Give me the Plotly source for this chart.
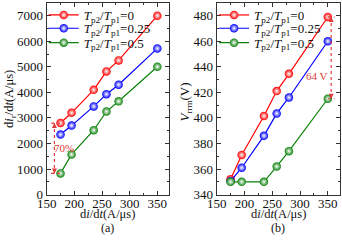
import plotly.graph_objects as go

# ---------------- data ----------------
didt = [175, 195, 235, 258, 280, 350]

# (a) dir/dt (A/us)
a_tp0 = [2800, 3200, 4100, 4820, 5250, 7000]
a_tp025 = [2350, 2700, 3450, 3930, 4300, 5720]
a_tp05 = [830, 1570, 2520, 3250, 3650, 5000]

# (b) Vrrm (V)
b_tp0 = [352, 371, 401.5, 421, 434.5, 479]
b_tp025 = [350.5, 361, 386, 403.5, 416, 460]
b_tp05 = [350, 350, 350, 362, 374, 415]

series_names = ["<i>T</i><sub>p2</sub>/<i>T</i><sub>p1</sub>=0",
                "<i>T</i><sub>p2</sub>/<i>T</i><sub>p1</sub>=0.25",
                "<i>T</i><sub>p2</sub>/<i>T</i><sub>p1</sub>=0.5"]
colors = ["#ff0000", "#0000ff", "#0b820b"]

# annotation data
a_arrow_x = 164
a_arrow_top, a_arrow_bot = 2800, 830
a_label = "70%"
b_arrow_x = 356
b_arrow_top, b_arrow_bot = 479, 415
b_label = "64 V"

FONT = "Liberation Serif"
ann_col = "#e0393b"

W, H = 342, 240
legend_rows_px = [14, 28.3, 42.7]
left_legend_x = 0.128
right_legend_x = 0.626

fig = go.Figure()
legend_defs = {}
k = 1
for panel, (xa, ya, datasets, lx) in enumerate([
        ("x", "y", [a_tp0, a_tp025, a_tp05], left_legend_x),
        ("x2", "y2", [b_tp0, b_tp025, b_tp05], right_legend_x)]):
    for i, (ys, name, c) in enumerate(zip(datasets, series_names, colors)):
        lname = "legend" if k == 1 else f"legend{k}"
        fig.add_trace(go.Scatter(
            x=didt, y=ys, mode="lines+markers", name=name,
            line=dict(color=c, width=1.2),
            marker=dict(size=8.5, color=c, symbol="circle",
                        gradient=dict(type="radial", color="white"),
                        line=dict(width=0)),
            xaxis=xa, yaxis=ya, legend=lname))
        legend_defs[lname] = dict(
            x=lx, y=1 - legend_rows_px[i] / H, xanchor="left", yanchor="middle",
            bgcolor="rgba(0,0,0,0)", font=dict(family=FONT, size=13),
            itemwidth=30, tracegroupgap=0)
        k += 1

axis_common = dict(
    showline=True, linecolor="#333", linewidth=1, mirror="allticks",
    ticks="inside", ticklen=4, tickcolor="#333", tickwidth=1,
    showgrid=False, zeroline=False,
    tickfont=dict(family=FONT, size=13, color="#111"),
    automargin=False,
)

fig.update_layout(
    width=W, height=H,
    margin=dict(l=0, r=0, t=0, b=0),
    paper_bgcolor="white", plot_bgcolor="white",
    font=dict(family=FONT, size=13, color="#111"),
    xaxis=dict(domain=[0.1365, 0.494], range=[150, 371], dtick=50, tick0=150,
               minor=dict(dtick=25, ticks="inside", ticklen=2, tickcolor="#333"),
               anchor="y", ticklabelstandoff=-3, **axis_common),
    yaxis=dict(domain=[0.19, 0.992], range=[0, 7500], dtick=1000,
               minor=dict(dtick=500, ticks="inside", ticklen=2, tickcolor="#333"),
               anchor="x", **axis_common),
    xaxis2=dict(domain=[0.6336, 0.9927], range=[150, 371], dtick=50, tick0=150,
                minor=dict(dtick=25, ticks="inside", ticklen=2, tickcolor="#333"),
                anchor="y2", ticklabelstandoff=-3, **axis_common),
    yaxis2=dict(domain=[0.19, 0.992], range=[340, 490], dtick=20,
                minor=dict(dtick=10, ticks="inside", ticklen=2, tickcolor="#333"),
                anchor="x2", **axis_common),
    showlegend=True,
    **legend_defs,
)

# axis titles and panel labels
xtitle = "d<i>i</i>/d<i>t</i>(A/μs)"
for xc, lab in [((0.1365 + 0.494) / 2, "(a)"), ((0.6336 + 0.9927) / 2, "(b)")]:
    fig.add_annotation(x=xc, y=(H - 214) / H, xref="paper", yref="paper",
                       yanchor="middle", xanchor="center",
                       text=xtitle, showarrow=False, font=dict(family=FONT, size=12.5))
    fig.add_annotation(x=xc, y=(H - 228) / H, xref="paper", yref="paper",
                       yanchor="middle", xanchor="center",
                       text=lab, showarrow=False, font=dict(family=FONT, size=12))

fig.add_annotation(x=10 / W, y=0.59, xref="paper", yref="paper",
                   xanchor="center", yanchor="middle",
                   text="d<i>i</i><sub>r</sub>/d<i>t</i>(A/μs)", textangle=-90,
                   showarrow=False, font=dict(family=FONT, size=12.5))
fig.add_annotation(x=186 / W, y=0.575, xref="paper", yref="paper",
                   xanchor="center", yanchor="middle",
                   text="<i>V</i><sub>rrm</sub>(V)", textangle=-90,
                   showarrow=False, font=dict(family=FONT, size=13))

# dashed arrows
def dashed_arrow(xref, yref, x, y0, y1, cap_x0, cap_x1):
    fig.add_shape(type="line", xref=xref, yref=yref, x0=x, x1=x, y0=y0, y1=y1,
                  line=dict(color=ann_col, width=1.2, dash="dot"))
    for yy in (y0, y1):
        fig.add_shape(type="line", xref=xref, yref=yref, x0=cap_x0, x1=cap_x1,
                      y0=yy, y1=yy, line=dict(color=ann_col, width=1.2, dash="dot"))
    fig.add_annotation(xref=xref, yref=yref, x=x, y=y0, ax=0, ay=6, showarrow=True,
                       arrowhead=2, arrowsize=1, arrowwidth=1, arrowcolor=ann_col, text="")
    fig.add_annotation(xref=xref, yref=yref, x=x, y=y1, ax=0, ay=-6, showarrow=True,
                       arrowhead=2, arrowsize=1, arrowwidth=1, arrowcolor=ann_col, text="")

dashed_arrow("x", "y", a_arrow_x, a_arrow_top, a_arrow_bot, 158, 174)
fig.add_annotation(xref="x", yref="y", x=182, y=1820, text=a_label, showarrow=False,
                   font=dict(family=FONT, size=11, color=ann_col))
dashed_arrow("x2", "y2", b_arrow_x, b_arrow_top, b_arrow_bot, 350, 362)
fig.add_annotation(xref="x2", yref="y2", x=331, y=433, text=b_label, showarrow=False,
                   font=dict(family=FONT, size=11, color=ann_col))

fig.write_html("out.html", config={"displayModeBar": False},
               post_script="document.body.style.margin='0';document.body.style.padding='0';")
